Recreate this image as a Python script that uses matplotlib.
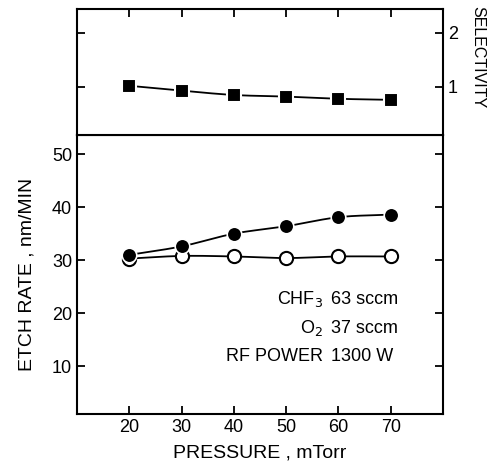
import matplotlib
matplotlib.use("Agg")
import matplotlib.pyplot as plt
import numpy as np

plt.rcParams['font.family'] = ['Liberation Sans', 'DejaVu Sans']

pressure = [20, 30, 40, 50, 60, 70]
selectivity = [1.02, 0.93, 0.85, 0.82, 0.78, 0.76]
etch_filled = [31.0, 32.6, 35.0, 36.4, 38.1, 38.6]
etch_open = [30.3, 30.8, 30.7, 30.4, 30.7, 30.7]
x_ticks = [20, 30, 40, 50, 60, 70]
y_ticks = [10, 20, 30, 40, 50]
sel_ticks = [1, 2]

fig = plt.figure(figsize=(4.93, 4.76), dpi=100)
W, H = 493, 476
def rect(l, t, r, b):
    return [l / W, 1 - b / H, (r - l) / W, (b - t) / H]

ax = fig.add_axes(rect(77, 135, 443, 414))
axt = fig.add_axes(rect(77, 9, 443, 135))

for a in (ax, axt):
    for s in a.spines.values():
        s.set_linewidth(1.5)
    a.set_xlim(10, 80)
    a.set_xticks(x_ticks)
    a.tick_params(direction='in', length=6, width=1.3, labelsize=13)

def smooth(x, y, n=200):
    xs = np.linspace(x[0], x[-1], n)
    x = np.asarray(x, float); y = np.asarray(y, float)
    out = np.interp(xs, x, y)
    m = np.gradient(y, x)
    for i in range(len(x) - 1):
        sel = (xs >= x[i]) & (xs <= x[i + 1])
        h = x[i + 1] - x[i]
        t = (xs[sel] - x[i]) / h
        h00 = 2 * t**3 - 3 * t**2 + 1
        h10 = t**3 - 2 * t**2 + t
        h01 = -2 * t**3 + 3 * t**2
        h11 = t**3 - t**2
        out[sel] = h00 * y[i] + h10 * h * m[i] + h01 * y[i + 1] + h11 * h * m[i + 1]
    return xs, out

# bottom panel
xs, ys = smooth(pressure, etch_filled)
ax.plot(xs, ys, color='black', lw=1.3, zorder=2)
xs, ys = smooth(pressure, etch_open)
ax.plot(xs, ys, color='black', lw=1.3, zorder=2)
ax.plot(pressure, etch_open, 'o', ms=9.5, mfc='white', mec='black', mew=1.5, zorder=3)
ax.plot(pressure, etch_filled, 'o', ms=10.5, mfc='black', mec='white', mew=1.2, zorder=4)
ax.set_ylim(1, 53.6)
ax.set_yticks(y_ticks)
ax.tick_params(top=False, right=True, labelright=False)
ax.set_xlabel('PRESSURE , mTorr', fontsize=14, labelpad=6)
ax.set_ylabel('ETCH RATE , nm/MIN', fontsize=14, labelpad=12)

ax.text(57, 21.8, 'CHF$_3$', fontsize=13, ha='right', va='baseline')
ax.text(58.5, 21.8, '63 sccm', fontsize=13, ha='left', va='baseline')
ax.text(57, 16.3, 'O$_2$', fontsize=13, ha='right', va='baseline')
ax.text(58.5, 16.3, '37 sccm', fontsize=13, ha='left', va='baseline')
ax.text(57, 11.0, 'RF POWER', fontsize=13, ha='right', va='baseline')
ax.text(58.5, 11.0, '1300 W', fontsize=13, ha='left', va='baseline')

# top panel
xs, ys = smooth(pressure, selectivity)
axt.plot(xs, ys, color='black', lw=1.3, zorder=2)
axt.plot(pressure, selectivity, 's', ms=10, mfc='black', mec='white', mew=1.5, zorder=3)
axt.set_ylim(0.11, 2.44)
axt.set_yticks(sel_ticks)
axt.tick_params(top=True, bottom=False, labelbottom=False, left=True, right=True,
                labelleft=False, labelright=True)
axt.yaxis.set_label_position('right')
axt.set_ylabel('SELECTIVITY', fontsize=11.5, rotation=-90, va='center', ha='center')
axt.yaxis.set_label_coords(1.096, 0.62)

fig.savefig('out.png', dpi=100)
